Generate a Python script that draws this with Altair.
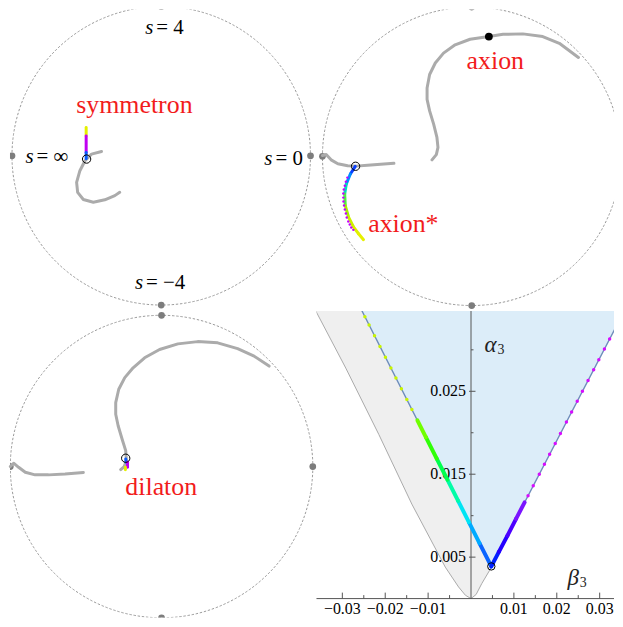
import altair as alt
import pandas as pd

SERIF = "Liberation Serif"
CURVE_GRAY = "#ababab"
LABEL_RED = "#f21c1c"

# ================= disc panels: unit-disc coordinates (u right, v up) =================
card_u = [0.0, 0.0, -1.0, 1.0]
card_v = [1.0, -1.0, 0.0, 0.0]

# ---- top left : symmetron ----
sym_u = [-0.400, -0.467, -0.511, -0.545, -0.567, -0.560, -0.522, -0.455, -0.378, -0.311, -0.278]
sym_v = [0.029, 0.011, -0.033, -0.100, -0.178, -0.245, -0.293, -0.311, -0.295, -0.267, -0.245]
sym_seg_u = [-0.503, -0.503, -0.503]
sym_seg_v = [0.189, 0.133, 0.022]
sym_seg_u2 = [-0.503, -0.503, -0.503]
sym_seg_v2 = [0.133, 0.022, -0.020]
sym_seg_col = ["#e4f000", "#c000f2", "#0a5cff"]
sym_ring_u, sym_ring_v = [-0.500], [-0.022]
sym_lab = ["symmetron"]
sym_lab_u, sym_lab_v = [-0.180], [0.289]
s_lab_u = [-0.053, -0.122, -0.855, 0.745]
s_lab_v = [0.815, -0.895, -0.049, -0.060]
s_lab_rest = ["= 4", "= \u22124", "= \u221e", "= 0"]

# ---- top right : axion ----
axA_u = [-1.000, -0.975, -0.942, -0.897, -0.831, -0.775, -0.698, -0.610, -0.521]
axA_v = [0.005, 0.012, -0.024, -0.050, -0.064, -0.066, -0.060, -0.053, -0.047]
axB_u = [-0.266, -0.237, -0.226, -0.233, -0.255, -0.282, -0.299, -0.299, -0.282, -0.244,
         -0.189, -0.111, -0.011, 0.115, 0.210, 0.343, 0.476, 0.587, 0.715]
axB_v = [-0.024, 0.011, 0.060, 0.126, 0.215, 0.304, 0.381, 0.458, 0.548, 0.625,
         0.691, 0.747, 0.784, 0.802, 0.817, 0.820, 0.802, 0.757, 0.662]
axs_u = [-0.780, -0.813, -0.840, -0.851, -0.847, -0.825, -0.791, -0.758, -0.725]
axs_v = [-0.068, -0.119, -0.185, -0.252, -0.330, -0.408, -0.475, -0.519, -0.559]
axs_col = ["#0a40ff", "#0090ff", "#00dcc0", "#50f040", "#a8f000", "#ccf000", "#dcf000", "#e6f000"]
axm_u = [-0.833, -0.843, -0.850, -0.857, -0.860, -0.860, -0.859, -0.855, -0.850, -0.843,
         -0.837, -0.827, -0.817, -0.807, -0.793]
axm_v = [-0.143, -0.170, -0.197, -0.223, -0.250, -0.277, -0.303, -0.330, -0.357, -0.383,
         -0.410, -0.437, -0.457, -0.477, -0.493]
ax_ring_u, ax_ring_v = [-0.778], [-0.067]
ax_dot_u, ax_dot_v = [0.115], [0.802]
ax_lab = ["axion", "axion*"]
ax_lab_u = [0.158, -0.458]
ax_lab_v = [0.585, -0.508]

# ---- bottom left : dilaton ----
dlA_u = [-1.000, -0.978, -0.945, -0.901, -0.836, -0.747, -0.638, -0.517]
dlA_v = [0.000, 0.022, -0.005, -0.038, -0.055, -0.055, -0.049, -0.039]
dlB_u = [-0.270, -0.247, -0.232, -0.237, -0.261, -0.287, -0.303, -0.303, -0.283, -0.243,
         -0.188, -0.112, -0.013, 0.108, 0.239, 0.371, 0.503, 0.612, 0.711]
dlB_v = [-0.020, 0.000, 0.039, 0.105, 0.182, 0.270, 0.346, 0.423, 0.511, 0.588,
         0.653, 0.719, 0.774, 0.811, 0.826, 0.818, 0.780, 0.730, 0.664]
dl_seg_u = [-0.237, -0.225, -0.239]
dl_seg_v = [0.050, 0.028, -0.005]
dl_seg_u2 = [-0.234, -0.225, -0.239]
dl_seg_v2 = [0.028, -0.005, -0.022]
dl_seg_col = ["#0a5cff", "#c000f2", "#e4f000"]
dl_ring_u, dl_ring_v = [-0.237], [0.055]
dl_lab = ["dilaton"]
dl_lab_u, dl_lab_v = [-0.002], [-0.191]

# ================= bottom right : (beta3, alpha3) plane =================
TOP = 0.03468
gray_b = [-0.0362, -0.0292, -0.0215, -0.0138, -0.0060, -0.0029, -0.0013, 0.0, 0.0012, 0.0025, 0.0049, 0.0352]
gray_a = [0.0347, 0.0278, 0.0198, 0.0114, 0.0038, 0.0014, 0.0004, 0.0, 0.0005, 0.0018, 0.0039, 0.0347]
blue_b = [-0.0260, 0.00473, 0.0362]
blue_a = [0.03529, 0.00388, 0.03516]
lt_b = [0.00473, 0.0020, -0.0005, -0.0030, -0.0055, -0.0080, -0.0105, -0.0125]
lt_a = [0.00388, 0.00667, 0.00923, 0.01178, 0.01434, 0.01689, 0.01945, 0.02149]
lt_col = ["#0a64ff", "#00aaff", "#00e4f4", "#00fca8", "#00ff50", "#30ff08", "#70ff00"]
rt_b = [0.00473, 0.0065, 0.0085, 0.0105, 0.0125]
rt_a = [0.00388, 0.00564, 0.00760, 0.00962, 0.01160]
rt_col = ["#0020ff", "#2400ff", "#4c00ff", "#7a14ff"]
ld_b = [-0.01378, -0.01496, -0.01623, -0.01750, -0.01867, -0.01995, -0.02122, -0.02249, -0.02376, -0.02474]
ld_a = [0.0228, 0.0240, 0.0253, 0.0266, 0.0278, 0.0291, 0.0304, 0.0317, 0.0330, 0.0340]
rd_b = [0.01330, 0.01451, 0.01592, 0.01712, 0.01833, 0.01964, 0.02085, 0.02225, 0.02346,
        0.02477, 0.02598, 0.02729, 0.02860, 0.02980, 0.03111, 0.03232, 0.03373, 0.03494]
rd_a = [0.0124, 0.0136, 0.0150, 0.0162, 0.0174, 0.0187, 0.0199, 0.0213, 0.0225,
        0.0238, 0.0250, 0.0263, 0.0276, 0.0288, 0.0301, 0.0313, 0.0327, 0.0339]
apex_b, apex_a = [0.00473], [0.00388]
xt_major = [-0.03, -0.02, -0.01, 0.01, 0.02, 0.03]
xt_labels = ["\u22120.03", "\u22120.02", "\u22120.01", "0.01", "0.02", "0.03"]
xt_minor = [-0.025, -0.015, -0.005, 0.005, 0.015, 0.025]
yt_major = [0.005, 0.015, 0.025]
yt_labels = ["0.005", "0.015", "0.025"]
yt_minor = [0.01, 0.02, 0.03]
axis_lab = ["\u03b1", "\u03b2"]
axis_lab_b = [0.00596, 0.02515]
axis_lab_a = [0.02976, 0.0016]


def sc(dom):
    return alt.Scale(domain=dom, nice=False, zero=False)


def xy(ud, vd, xf="u", yf="v"):
    return {"x": alt.X(f"{xf}:Q", scale=sc(ud), axis=None),
            "y": alt.Y(f"{yf}:Q", scale=sc(vd), axis=None)}


def curves_df(curves):
    rows = []
    for k, (us, vs) in enumerate(curves):
        for i, (u, v) in enumerate(zip(us, vs)):
            rows.append({"k": k, "i": i, "u": u, "v": v})
    return pd.DataFrame(rows)


def disc_panel(w, h, ud, vd, diam, curves, segs, rings, labels, extra=()):
    E = xy(ud, vd)
    layers = [
        alt.Chart(pd.DataFrame({"u": [0.0], "v": [0.0]})).mark_point(
            shape="circle", size=diam * diam, filled=False, stroke="#8e8e8e",
            strokeWidth=0.9, strokeDash=[2.4, 1.8], opacity=1, clip=True).encode(**E),
        alt.Chart(pd.DataFrame({"u": card_u, "v": card_v})).mark_circle(
            size=46, color="#7d7d7d", opacity=1, clip=True).encode(**E),
        alt.Chart(curves_df(curves)).mark_line(
            color=CURVE_GRAY, strokeWidth=3, strokeCap="round", strokeJoin="round").encode(
            **E, order="i:Q", detail="k:N"),
        alt.Chart(pd.DataFrame(segs)).mark_rule(strokeWidth=3, strokeCap="round").encode(
            **E, x2="u2:Q", y2="v2:Q", color=alt.Color("c:N", scale=None)),
    ]
    layers += list(extra)
    layers += [
        alt.Chart(pd.DataFrame({"u": rings[0], "v": rings[1]})).mark_point(
            shape="circle", size=70, filled=False, stroke="black", strokeWidth=1, opacity=1).encode(**E),
        alt.Chart(pd.DataFrame({"u": labels[1], "v": labels[2], "t": labels[0]})).mark_text(
            font=SERIF, fontSize=26, color=LABEL_RED, align="center", baseline="alphabetic").encode(
            **E, text="t:N"),
    ]
    return alt.layer(*layers).properties(width=w, height=h)


# ---------- panel 1 (page x 8..316, y 8..311) ----------
ud1, vd1 = [-1.01333, 1.04], [-1.04, 0.98]
E1 = xy(ud1, vd1)
s_df = pd.DataFrame({"u": s_lab_u, "v": s_lab_v, "r": s_lab_rest, "s": ["s"] * 4})
p1_extra = [
    alt.Chart(s_df).mark_text(font=SERIF, fontSize=21, fontStyle="italic", align="right",
                              baseline="alphabetic", color="black").encode(**E1, text="s:N"),
    alt.Chart(s_df).mark_text(font=SERIF, fontSize=21, align="left", dx=3,
                              baseline="alphabetic", color="black").encode(**E1, text="r:N"),
]
p1 = disc_panel(308, 303, ud1, vd1, 300, [(sym_u, sym_v)],
                {"u": sym_seg_u, "v": sym_seg_v, "u2": sym_seg_u2, "v2": sym_seg_v2, "c": sym_seg_col},
                (sym_ring_u, sym_ring_v), (sym_lab, sym_lab_u, sym_lab_v), p1_extra)

# ---------- panel 2 (page x 316..615, y 8..311) ----------
ud2, vd2 = [-1.04, 0.95333], [-1.03667, 0.98333]
E2 = xy(ud2, vd2)
p2_extra = [
    alt.Chart(pd.DataFrame({"u": axm_u, "v": axm_v})).mark_circle(
        size=6, color="#c400ff", opacity=1).encode(**E2),
    alt.Chart(pd.DataFrame({"u": ax_dot_u, "v": ax_dot_v})).mark_circle(
        size=62, color="black", opacity=1).encode(**E2),
]
p2 = disc_panel(299, 303, ud2, vd2, 300, [(axA_u, axA_v), (axB_u, axB_v)],
                {"u": axs_u[:-1], "v": axs_v[:-1], "u2": axs_u[1:], "v2": axs_v[1:], "c": axs_col},
                (ax_ring_u, ax_ring_v), (ax_lab, ax_lab_u, ax_lab_v), p2_extra)

# ---------- panel 3 (page x 8..316, y 311..619) ----------
ud3, vd3 = [-1.002, 1.0243], [-0.998, 1.0283]
p3 = disc_panel(308, 308, ud3, vd3, 304, [(dlA_u, dlA_v), (dlB_u, dlB_v)],
                {"u": dl_seg_u, "v": dl_seg_v, "u2": dl_seg_u2, "v2": dl_seg_v2, "c": dl_seg_col},
                (dl_ring_u, dl_ring_v), (dl_lab, dl_lab_u, dl_lab_v))

# ---------- panel 4 (page x 316..615, y 311..619) ----------
ud4, vd4 = [-0.03603, 0.03334], [-0.00228, TOP]
E4 = xy(ud4, vd4, "b", "a")
AX = "#555555"


def xo(f):
    return alt.X(f"{f}:Q", scale=sc(ud4), axis=None)


def yo(f):
    return alt.Y(f"{f}:Q", scale=sc(vd4), axis=None)


gray_df = pd.DataFrame({"b": gray_b, "a": gray_a, "top": TOP, "i": range(len(gray_b))})
blue_df = pd.DataFrame({"b": blue_b, "a": blue_a, "top": TOP, "i": range(len(blue_b))})
seg4 = pd.DataFrame({
    "b": lt_b[:-1] + rt_b[:-1], "a": lt_a[:-1] + rt_a[:-1],
    "b2": lt_b[1:] + rt_b[1:], "a2": lt_a[1:] + rt_a[1:], "c": lt_col + rt_col})
zero_df = pd.DataFrame({"z": [0.0], "top": [TOP]})
xt_df = pd.DataFrame({"t": xt_major, "lab": xt_labels, "z": 0.0})
xm_df = pd.DataFrame({"t": xt_minor, "z": 0.0})
yt_df = pd.DataFrame({"t": yt_major, "lab": yt_labels, "z": 0.0})
ym_df = pd.DataFrame({"t": yt_minor, "z": 0.0})
lab_df = pd.DataFrame({"b": axis_lab_b, "a": axis_lab_a, "t": axis_lab, "n": ["3", "3"]})

p4 = alt.layer(
    alt.Chart(gray_df).mark_area(color="#efefef", opacity=1, clip=True).encode(
        x=xo("b"), y=yo("top"), y2="a:Q"),
    alt.Chart(blue_df).mark_area(color="#dcedf9", opacity=1, clip=True).encode(
        x=xo("b"), y=yo("top"), y2="a:Q"),
    alt.Chart(gray_df[gray_df["b"] <= 0.005]).mark_line(color="#a9a9a9", strokeWidth=1, clip=True).encode(
        **E4, order="i:Q"),
    alt.Chart(blue_df).mark_line(color="#6f8dbb", strokeWidth=1.4, clip=True).encode(**E4, order="i:Q"),
    alt.Chart(zero_df).mark_rule(color=AX, strokeWidth=1).encode(y=yo("z")),
    alt.Chart(zero_df).mark_rule(color=AX, strokeWidth=1).encode(x=xo("z"), y=yo("z"), y2="top:Q"),
    alt.Chart(xt_df).mark_rule(color=AX, strokeWidth=1, y2Offset=-6).encode(x=xo("t"), y=yo("z"), y2="z:Q"),
    alt.Chart(xm_df).mark_rule(color=AX, strokeWidth=1, y2Offset=-3.5).encode(x=xo("t"), y=yo("z"), y2="z:Q"),
    alt.Chart(yt_df).mark_rule(color=AX, strokeWidth=1, xOffset=-2, x2Offset=4.5).encode(
        y=yo("t"), x=xo("z"), x2="z:Q"),
    alt.Chart(ym_df).mark_rule(color=AX, strokeWidth=1, x2Offset=2.5).encode(y=yo("t"), x=xo("z"), x2="z:Q"),
    alt.Chart(xt_df).mark_text(font=SERIF, fontSize=16, color="black", dy=10, baseline="middle").encode(
        x=xo("t"), y=yo("z"), text="lab:N"),
    alt.Chart(yt_df).mark_text(font=SERIF, fontSize=16, color="black", dx=-5, align="right",
                               baseline="middle").encode(y=yo("t"), x=xo("z"), text="lab:N"),
    alt.Chart(seg4).mark_rule(strokeWidth=4, strokeCap="round").encode(
        **E4, x2="b2:Q", y2="a2:Q", color=alt.Color("c:N", scale=None)),
    alt.Chart(pd.DataFrame({"b": ld_b, "a": ld_a})).mark_circle(size=12, color="#c8f500", opacity=1, clip=True).encode(**E4),
    alt.Chart(pd.DataFrame({"b": rd_b, "a": rd_a})).mark_circle(size=12, color="#d80cff", opacity=1, clip=True).encode(**E4),
    alt.Chart(pd.DataFrame({"b": apex_b, "a": apex_a})).mark_point(
        shape="circle", size=55, filled=False, stroke="black", strokeWidth=1, opacity=1).encode(**E4),
    alt.Chart(lab_df).mark_text(font=SERIF, fontSize=23, fontStyle="italic", align="right",
                                baseline="alphabetic", color="#222222").encode(**E4, text="t:N"),
    alt.Chart(lab_df).mark_text(font=SERIF, fontSize=14, align="left", dx=1, dy=2,
                                baseline="alphabetic", color="#222222").encode(**E4, text="n:N"),
).properties(width=299, height=308)

chart = alt.concat(p1, p2, p3, p4, columns=2, spacing=0, bounds="flush").properties(
    padding=0).configure_view(stroke=None)

chart.save("out.html", embed_options={"renderer": "svg", "actions": False})
